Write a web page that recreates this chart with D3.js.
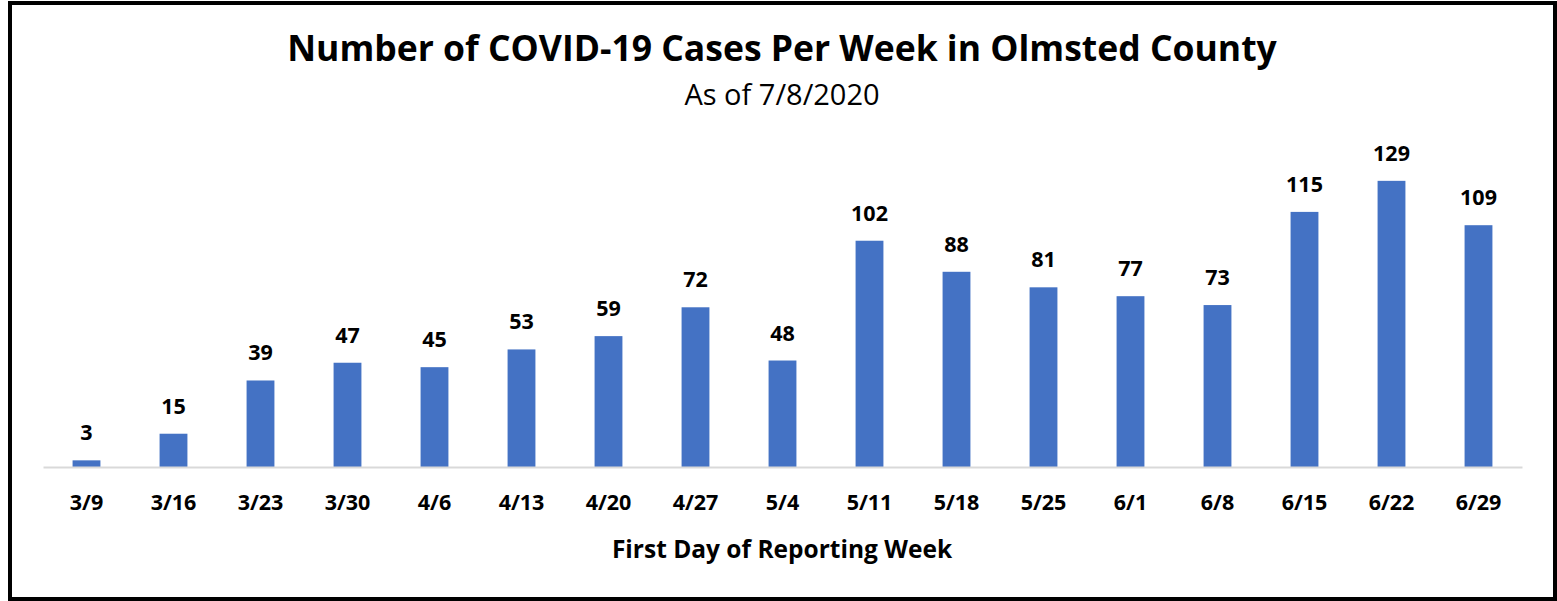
<!DOCTYPE html>
<html>
<head>
<meta charset="utf-8">
<script src="https://cdn.jsdelivr.net/npm/d3@7"></script>
<style>
  body { margin: 0; background: #fff; }
  text { font-family: "Open Sans", Lato, sans-serif; fill: #000; }
</style>
</head>
<body>
<div id="chart"></div>
<script>
// data
var weeks = ["3/9", "3/16", "3/23", "3/30", "4/6", "4/13", "4/20", "4/27", "5/4",
             "5/11", "5/18", "5/25", "6/1", "6/8", "6/15", "6/22", "6/29"];
var cases = [3, 15, 39, 47, 45, 53, 59, 72, 48, 102, 88, 81, 77, 73, 115, 129, 109];

var titleText = "Number of COVID-19 Cases Per Week in Olmsted County";
var subtitleText = "As of 7/8/2020";
var xTitle = "First Day of Reporting Week";

// size
var W = 1557, H = 601;
var margin = { left: 43, right: 35, top: 152, bottom: 134 };
var width = W - margin.left - margin.right;
var height = H - margin.top - margin.bottom;

var svg = d3.select("#chart").append("svg")
  .attr("width", W)
  .attr("height", H);

// frame
svg.append("rect")
  .attr("x", 10).attr("y", 3)
  .attr("width", 1545).attr("height", 596)
  .attr("fill", "#fff")
  .attr("stroke", "#000")
  .attr("stroke-width", 4);

var g = svg.append("g")
  .attr("transform", "translate(" + margin.left + "," + margin.top + ")");

// scales
var x = d3.scaleBand()
  .domain(weeks)
  .range([0, width])
  .paddingInner(0.68)
  .paddingOuter(0.34);

var y = d3.scaleLinear()
  .domain([0, 142])
  .range([height, 0]);

// bars
g.selectAll("rect.bar")
  .data(cases)
  .enter().append("rect")
    .attr("class", "bar")
    .attr("x", function(d, i){ return x(weeks[i]); })
    .attr("width", x.bandwidth())
    .attr("y", function(d){ return y(d); })
    .attr("height", function(d){ return height - y(d); })
    .attr("fill", "#4472c4");

// value labels
g.selectAll("text.val")
  .data(cases)
  .enter().append("text")
    .attr("class", "val")
    .attr("x", function(d, i){ return x(weeks[i]) + x.bandwidth() / 2; })
    .attr("y", function(d){ return y(d) - 20; })
    .attr("text-anchor", "middle")
    .attr("font-size", "21.5px")
    .attr("font-weight", "bold")
    .text(function(d){ return d; });

// x axis
var xAxisCall = d3.axisBottom(x).tickSize(0).tickPadding(28);
var xAxis = g.append("g")
  .attr("transform", "translate(0," + height + ")")
  .call(xAxisCall);
xAxis.select(".domain")
  .attr("stroke", "#d9d9d9")
  .attr("stroke-width", 2);
xAxis.selectAll("text")
  .attr("font-size", "21.5px")
  .attr("font-weight", "bold")
  .attr("font-family", "'Open Sans', sans-serif")
  .attr("fill", "#000");

// titles
svg.append("text")
  .attr("x", 782).attr("y", 61)
  .attr("text-anchor", "middle")
  .attr("font-size", "35.5px")
  .attr("font-weight", "bold")
  .text(titleText);

svg.append("text")
  .attr("x", 782).attr("y", 105)
  .attr("text-anchor", "middle")
  .attr("font-size", "29px")
  .text(subtitleText);

svg.append("text")
  .attr("x", 782).attr("y", 558)
  .attr("text-anchor", "middle")
  .attr("font-size", "24.5px")
  .attr("font-weight", "bold")
  .text(xTitle);
</script>
</body>
</html>
